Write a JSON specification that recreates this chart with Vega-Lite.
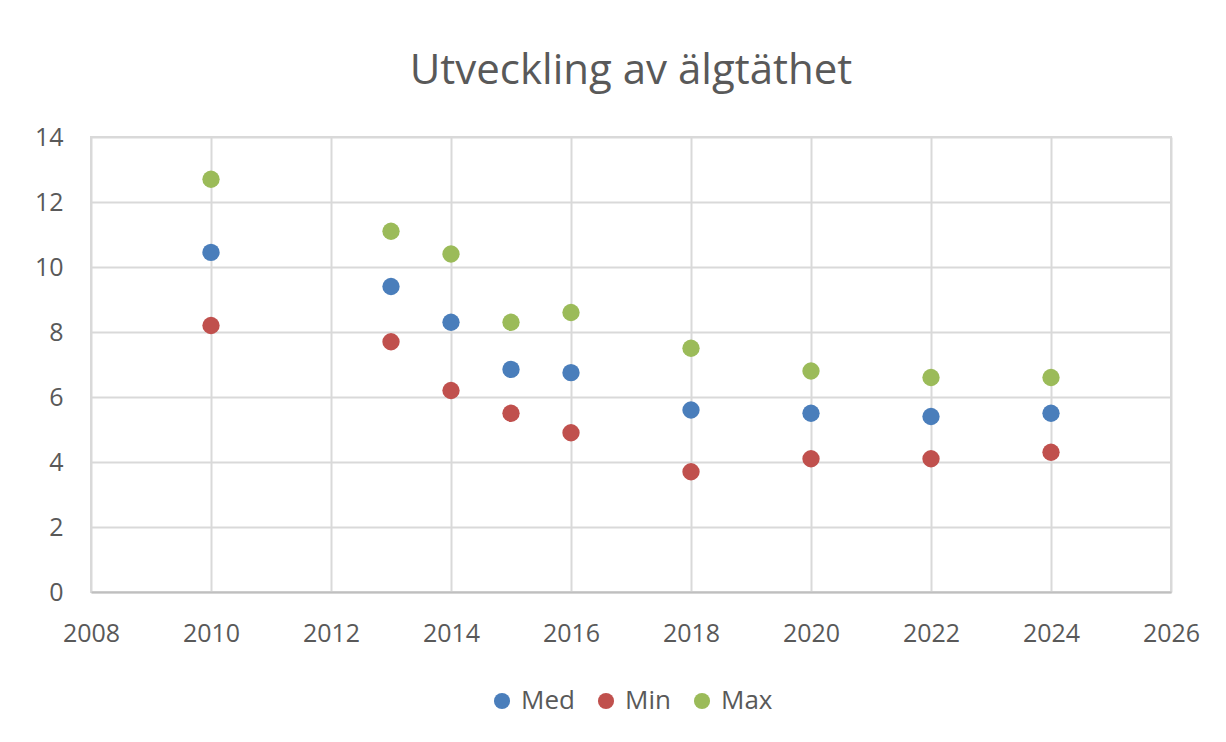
{
  "$schema": "https://vega.github.io/schema/vega-lite/v6.json",
  "autosize": "none",
  "width": 1080,
  "height": 455,
  "padding": {"left": 91, "top": 137, "right": 55, "bottom": 150},
  "background": "white",
  "title": {
    "text": "Utveckling av älgtäthet",
    "fontSize": 42,
    "font": "Open Sans",
    "fontWeight": "normal",
    "color": "#595959",
    "anchor": "middle",
    "offset": 32
  },
  "data": {
    "values": [
      {"year": 2010, "series": "Med", "value": 10.45},
      {"year": 2013, "series": "Med", "value": 9.4},
      {"year": 2014, "series": "Med", "value": 8.3},
      {"year": 2015, "series": "Med", "value": 6.85},
      {"year": 2016, "series": "Med", "value": 6.75},
      {"year": 2018, "series": "Med", "value": 5.6},
      {"year": 2020, "series": "Med", "value": 5.5},
      {"year": 2022, "series": "Med", "value": 5.4},
      {"year": 2024, "series": "Med", "value": 5.5},
      {"year": 2010, "series": "Min", "value": 8.2},
      {"year": 2013, "series": "Min", "value": 7.7},
      {"year": 2014, "series": "Min", "value": 6.2},
      {"year": 2015, "series": "Min", "value": 5.5},
      {"year": 2016, "series": "Min", "value": 4.9},
      {"year": 2018, "series": "Min", "value": 3.7},
      {"year": 2020, "series": "Min", "value": 4.1},
      {"year": 2022, "series": "Min", "value": 4.1},
      {"year": 2024, "series": "Min", "value": 4.3},
      {"year": 2010, "series": "Max", "value": 12.7},
      {"year": 2013, "series": "Max", "value": 11.1},
      {"year": 2014, "series": "Max", "value": 10.4},
      {"year": 2015, "series": "Max", "value": 8.3},
      {"year": 2016, "series": "Max", "value": 8.6},
      {"year": 2018, "series": "Max", "value": 7.5},
      {"year": 2020, "series": "Max", "value": 6.8},
      {"year": 2022, "series": "Max", "value": 6.6},
      {"year": 2024, "series": "Max", "value": 6.6}
    ]
  },
  "mark": {"type": "point", "filled": true, "shape": "circle", "size": 300, "opacity": 1},
  "encoding": {
    "x": {
      "field": "year",
      "type": "quantitative",
      "scale": {"domain": [2008, 2026], "nice": false, "zero": false},
      "axis": {
        "title": null,
        "values": [2008, 2010, 2012, 2014, 2016, 2018, 2020, 2022, 2024, 2026],
        "format": "d",
        "labelFontSize": 25,
        "labelFont": "Open Sans",
        "labelColor": "#595959",
        "labelPadding": 29,
        "labelFlush": false,
        "labelOverlap": false,
        "ticks": false,
        "domainColor": "#bfbfbf",
        "domainWidth": 2,
        "gridColor": "#d9d9d9",
        "gridWidth": 2
      }
    },
    "y": {
      "field": "value",
      "type": "quantitative",
      "scale": {"domain": [0, 14], "nice": false},
      "axis": {
        "title": null,
        "values": [0, 2, 4, 6, 8, 10, 12, 14],
        "labelFontSize": 25,
        "labelFont": "Open Sans",
        "labelColor": "#595959",
        "labelPadding": 28,
        "labelFlush": false,
        "ticks": false,
        "domain": false,
        "gridColor": "#d9d9d9",
        "gridWidth": 2
      }
    },
    "color": {
      "field": "series",
      "type": "nominal",
      "sort": ["Med", "Min", "Max"],
      "scale": {"domain": ["Med", "Min", "Max"], "range": ["#4a7ebb", "#c0504d", "#9bbb59"]},
      "legend": {
        "title": null,
        "orient": "bottom",
        "direction": "horizontal",
        "labelFontSize": 26,
        "labelFont": "Open Sans",
        "labelColor": "#595959",
        "symbolType": "circle",
        "symbolSize": 260,
        "symbolStrokeWidth": 0,
        "columnPadding": 18,
        "labelOffset": 6,
        "offset": 42
      }
    }
  },
  "config": {
    "view": {"stroke": "#d9d9d9", "strokeWidth": 2},
    "legend": {"layout": {"bottom": {"anchor": "middle"}}}
  }
}
